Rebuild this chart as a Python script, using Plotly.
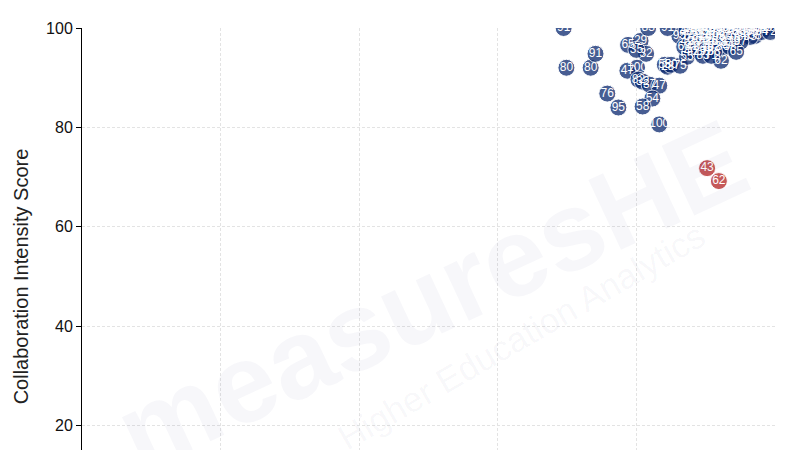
import plotly.graph_objects as go

# Main (blue) group: x = primary metric, y = Collaboration Intensity Score, label = value shown in marker
blue_x = [69.5, 69.9, 73.4, 74.1, 78.8, 80.6, 81.7, 81.4, 80.0, 80.1, 78.7, 80.3, 80.9, 81.9,
          83.3, 82.3, 80.9, 75.8, 77.4, 83.3, 84.1, 84.5, 85.0, 86.3, 87.3, 86.2, 84.5, 92.2,
          93.1, 97.1,
          87.8, 88.8, 89.6, 90.6, 91.5, 92.4, 93.4, 94.2, 95.1, 96.1, 96.9, 97.8, 98.7, 99.6,
          87.2, 88.3, 89.4, 90.4, 91.4, 92.7, 93.8, 94.8, 95.8, 96.7, 98.1, 99.3,
          87.8, 88.9, 89.9, 90.9, 91.9, 92.9, 94.1, 95.4, 96.4,
          87.3, 88.5, 89.6, 90.8, 91.8, 94.0, 95.0,
          86.9, 88.1, 89.2, 90.4, 91.2, 92.4, 93.5,
          87.8, 89.1, 90.2, 91.2, 94.4,
          89.6, 90.8]
blue_y = [100, 92.0, 92.0, 94.8, 96.6, 97.4, 100, 94.8, 95.6, 92.0, 91.4, 89.6, 89.2, 88.6,
          88.4, 85.8, 84.2, 86.8, 84.0, 80.6, 92.6, 92.2, 92.6, 92.4, 94.2, 98.4, 100, 93.4,
          97.0, 98.4,
          100, 100, 100, 100, 100, 100, 100, 100, 100, 100, 100, 100, 100, 100,
          99.2, 99.2, 99.2, 99.2, 99.2, 99.2, 99.2, 99.2, 99.2, 99.2, 99.2, 99.2,
          98.2, 98.2, 98.2, 98.2, 98.2, 98.2, 98.2, 98.2, 98.2,
          97.2, 97.2, 97.2, 97.2, 97.2, 97.2, 97.2,
          96.2, 96.2, 96.2, 96.2, 96.2, 96.2, 96.2,
          95.2, 95.2, 95.2, 95.2, 95.2,
          94.4, 94.4]
blue_labels = ["91", "80", "80", "91", "65", "29", "83", "32", "35", "100", "47", "82", "32", "37",
               "47", "54", "58", "76", "95", "100", "58", "28", "50", "75", "55", "95", "91", "62",
               "83", "58",
               "38", "48", "61", "74", "52", "88", "67", "43", "90", "71", "56", "84", "69", "100",
               "46", "73", "85", "59", "92", "64", "78", "50", "87", "66", "94", "72",
               "57", "81", "44", "69", "93", "60", "76", "89", "63",
               "49", "39", "70", "86", "53", "79", "97",
               "68", "42", "91", "77", "62", "84", "58",
               "40", "29", "75", "88", "65",
               "83", "71"]

# Highlighted (red) group
red_x = [90.2, 91.9]
red_y = [71.8, 69.2]
red_labels = ["43", "62"]

y_ticks = [20, 40, 60, 80, 100]

FONT = "Liberation Sans, Arial, sans-serif"
NARROW = "Liberation Sans Narrow, Arial Narrow, Liberation Sans, sans-serif"

fig = go.Figure()
fig.add_trace(go.Scatter(
    x=blue_x, y=blue_y, text=blue_labels, mode="markers+text",
    textposition="middle center",
    textfont=dict(color="white", size=12, family=NARROW),
    marker=dict(size=17, color="#0a286e", opacity=0.75, line=dict(color="white", width=1)),
    showlegend=False, hoverinfo="skip",
))
fig.add_trace(go.Scatter(
    x=red_x, y=red_y, text=red_labels, mode="markers+text",
    textposition="middle center",
    textfont=dict(color="white", size=12, family=NARROW),
    marker=dict(size=17, color="#b22222", opacity=0.75, line=dict(color="white", width=1)),
    showlegend=False, hoverinfo="skip",
))

fig.add_annotation(text="<b>measuresHE</b>", xref="paper", yref="paper", x=0.505, y=0.462,
                   showarrow=False, textangle=-25,
                   font=dict(size=112, color="rgba(40,60,120,0.04)", family=FONT))
fig.add_annotation(text="Higher Education Analytics", xref="paper", yref="paper", x=0.633, y=0.38,
                   showarrow=False, textangle=-30,
                   font=dict(size=35, color="rgba(40,60,120,0.045)", family=FONT))

fig.update_layout(
    width=800, height=600,
    margin=dict(l=72, r=33, t=17, b=83),
    paper_bgcolor="white", plot_bgcolor="white",
    font=dict(family=FONT, color="#222"),
    xaxis=dict(range=[0, 100], dtick=20, showgrid=True, gridcolor="#e3e3e3", griddash="3px,2px",
               gridwidth=1, zeroline=False, showline=True, linecolor="black", ticks="outside",
               tickfont=dict(size=16, family=NARROW)),
    yaxis=dict(range=[0, 100], tickvals=y_ticks, showgrid=True, gridcolor="#e3e3e3", griddash="3px,2px",
               gridwidth=1, zeroline=False, showline=True, linecolor="black", linewidth=1,
               ticks="outside", ticklen=5, tickcolor="black",
               tickfont=dict(size=16, color="#111", family=NARROW),
               title=dict(text="Collaboration Intensity Score", font=dict(size=20, color="#222"),
                          standoff=12)),
)

fig.write_html("out.html")
